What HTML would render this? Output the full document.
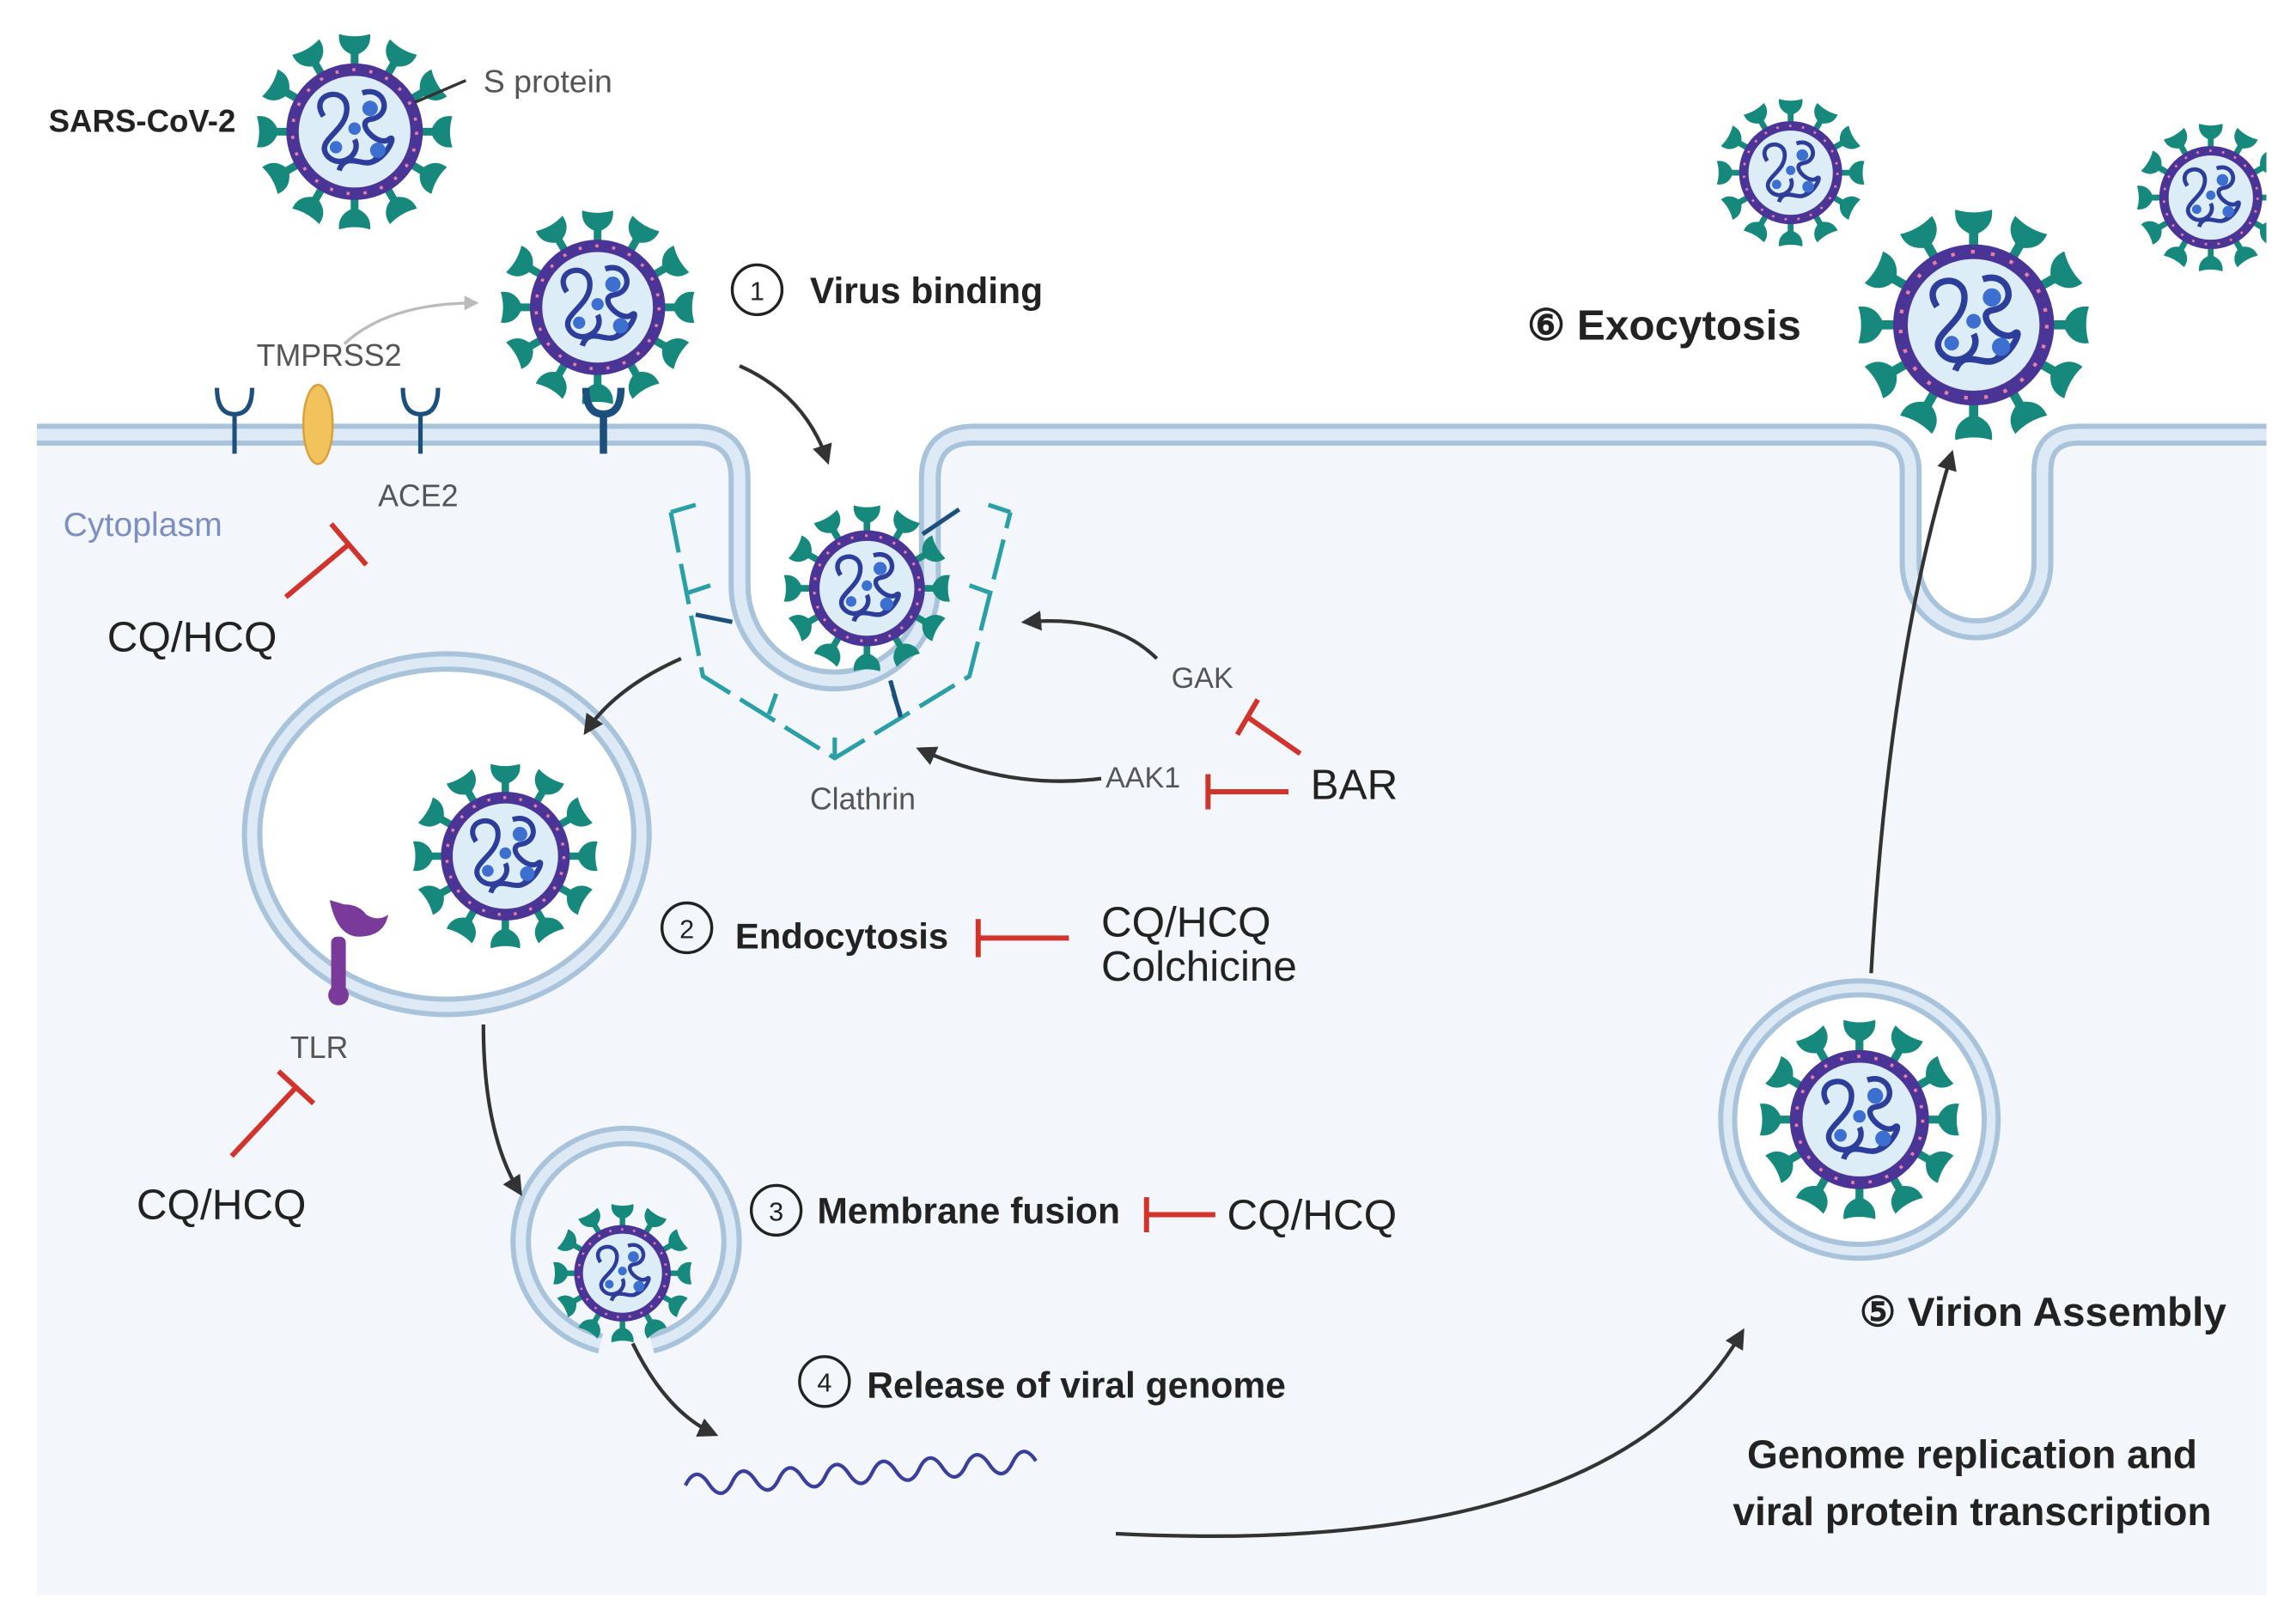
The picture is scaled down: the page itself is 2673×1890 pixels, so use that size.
<!DOCTYPE html>
<html><head><meta charset="utf-8"><style>
html,body{margin:0;padding:0;background:#fff}
svg{display:block}
text{font-family:"Liberation Sans",sans-serif}
</style></head><body>
<svg width="2673" height="1890" viewBox="0 0 1568 1109" xmlns="http://www.w3.org/2000/svg">
<defs>
<g id="v">
  <g fill="#16897c">
    <path id="sp" d="M-2.5,-42 L-2.5,-50 Q-11,-54 -10,-63 Q0,-60 10,-63 Q11,-54 2.5,-50 L2.5,-42Z"/>
    <use href="#sp" transform="rotate(30)"/><use href="#sp" transform="rotate(60)"/><use href="#sp" transform="rotate(90)"/>
    <use href="#sp" transform="rotate(120)"/><use href="#sp" transform="rotate(150)"/><use href="#sp" transform="rotate(180)"/>
    <use href="#sp" transform="rotate(210)"/><use href="#sp" transform="rotate(240)"/><use href="#sp" transform="rotate(270)"/>
    <use href="#sp" transform="rotate(300)"/><use href="#sp" transform="rotate(330)"/>
  </g>
  <circle r="40" fill="#dcedf8" stroke="#4a3596" stroke-width="8"/>
  <circle r="40" fill="none" stroke="#e77fa8" stroke-width="2" stroke-dasharray="2 9"/>
  <g fill="none" stroke="#2c3e9a" stroke-width="3.5">
    <path d="M-20,-10 C-30,-25 -5,-30 -5,-15 C-5,0 -25,5 -18,15 C-10,25 5,15 0,5"/>
    <path d="M5,-25 C20,-30 25,-10 10,-8 C0,-6 15,10 22,5 C28,0 20,20 8,20"/>
    <path d="M-10,25 C-5,10 10,28 15,15"/>
  </g>
  <g fill="#3c6fcf"><circle cx="10" cy="-15" r="5"/><circle cx="-12" cy="10" r="4"/><circle cx="15" cy="12" r="5"/><circle cx="0" cy="-2" r="4"/></g>
</g>
<marker id="ah" viewBox="0 0 10 10" refX="8" refY="5" markerWidth="5.5" markerHeight="5.5" orient="auto"><path d="M0,0 L10,5 L0,10Z" fill="#333"/></marker>
<marker id="ag" viewBox="0 0 10 10" refX="8" refY="5" markerWidth="5" markerHeight="5" orient="auto"><path d="M0,0 L10,5 L0,10Z" fill="#bbb"/></marker>
</defs>

<path d="M25,297 H475 Q505,297 505,327 V400 A65,65 0 0 0 635,400 V327 Q635,297 665,297 H1275 Q1305,297 1305,322 V385 A45,45 0 0 0 1395,385 V322 Q1395,297 1420,297 H1548 V1090 H25Z" fill="#f3f7fb"/>
<path d="M25,297 H475 Q505,297 505,327 V400 A65,65 0 0 0 635,400 V327 Q635,297 665,297 H1275 Q1305,297 1305,322 V385 A45,45 0 0 0 1395,385 V322 Q1395,297 1420,297 H1548" fill="none" stroke="#a8c3da" stroke-width="15"/>
<path d="M25,297 H475 Q505,297 505,327 V400 A65,65 0 0 0 635,400 V327 Q635,297 665,297 H1275 Q1305,297 1305,322 V385 A45,45 0 0 0 1395,385 V322 Q1395,297 1420,297 H1548" fill="none" stroke="#dde9f4" stroke-width="8"/>

<path d="M458,350 L480,462 L570,518 L662,462 L690,350" fill="none" stroke="#2aa0a6" stroke-width="3" stroke-dasharray="28 8"/>
<g stroke="#2aa0a6" stroke-width="3"><line x1="458" y1="350" x2="475" y2="345"/><line x1="470" y1="405" x2="485" y2="400"/><line x1="525" y1="488" x2="530" y2="474"/><line x1="570" y1="518" x2="570" y2="504"/><line x1="615" y1="488" x2="610" y2="474"/><line x1="676" y1="405" x2="662" y2="400"/><line x1="690" y1="350" x2="675" y2="345"/></g>

<use href="#v" transform="translate(242,90) scale(1.06)"/>
<line x1="283" y1="70" x2="318" y2="55" stroke="#333" stroke-width="2"/>
<use href="#v" transform="translate(408,210) scale(1.05)"/>
<use href="#v" transform="translate(592,402) scale(0.9)"/>
<use href="#v" transform="translate(1223,118) scale(0.8)"/>
<use href="#v" transform="translate(1510,135) scale(0.8)"/>
<rect x="1548" y="60" width="30" height="150" fill="#fff"/>
<use href="#v" transform="translate(1348,222) scale(1.25)"/>

<g stroke="#1d4f7d" stroke-width="3" fill="none">
<path d="M160,310 V283 M148,265 Q148,283 160,283 Q172,283 172,265"/>
<path d="M287,310 V283 M275,265 Q275,283 287,283 Q299,283 299,265"/>
<path d="M412,310 V283 M400,265 Q400,283 412,283 Q424,283 424,265" stroke-width="5"/>
<line x1="475" y1="420" x2="500" y2="425"/><line x1="630" y1="365" x2="655" y2="348"/><line x1="608" y1="465" x2="615" y2="490"/>
</g>
<ellipse cx="217" cy="290" rx="10" ry="27" fill="#f2c35d" stroke="#d9a23a" stroke-width="1.5"/>

<ellipse cx="305" cy="570" rx="133" ry="118" fill="#fff" stroke="#a8c3da" stroke-width="14"/>
<ellipse cx="305" cy="570" rx="133" ry="118" fill="none" stroke="#dde9f4" stroke-width="7"/>
<use href="#v" transform="translate(345,585) scale(1)"/>
<g fill="#7a3a9a"><path d="M225,615 Q230,640 245,640 Q262,640 265,625 Q258,630 250,625 Q245,618 235,618Z"/><rect x="226" y="640" width="10" height="42" rx="4"/><circle cx="231" cy="680" r="7"/></g>

<path d="M410,918 A72,72 0 1 1 445,918" fill="none" stroke="#a8c3da" stroke-width="14"/>
<path d="M410,918 A72,72 0 1 1 445,918" fill="none" stroke="#dde9f4" stroke-width="7"/>
<use href="#v" transform="translate(425,870) scale(0.75)"/>

<circle cx="1270" cy="765" r="90" fill="#fff" stroke="#a8c3da" stroke-width="13"/>
<circle cx="1270" cy="765" r="90" fill="none" stroke="#dde9f4" stroke-width="6"/>
<use href="#v" transform="translate(1270,765) scale(1.08)"/>

<path d="M468,1015 q8,-14 16,0 t16,0 t16,0 t16,0 t16,0 t16,0 t16,0 t16,0 t16,0 t16,0 t16,0 t16,0 t16,0 t16,0 t16,0" fill="none" stroke="#3b3f9a" stroke-width="2.5" transform="rotate(-4 468 1015)"/>

<g fill="none" stroke="#333" stroke-width="2.5" marker-end="url(#ah)">
<path d="M505,250 Q550,270 565,315"/>
<path d="M465,450 Q420,470 400,500"/>
<path d="M790,450 Q760,420 700,425"/>
<path d="M752,532 Q690,540 628,512"/>
<path d="M330,700 Q330,775 355,815"/>
<path d="M432,918 Q455,965 488,980"/>
<path d="M762,1048 Q1100,1065 1190,910"/>
<path d="M1278,665 Q1290,450 1333,310"/>
</g>
<path d="M235,235 Q265,207 325,207" fill="none" stroke="#bbb" stroke-width="2" marker-end="url(#ag)"/>

<g stroke="#d0342c" stroke-width="3.5" fill="none">
<path d="M195,408 L238,372 M226,358 L250,386"/>
<path d="M888,515 L852,490 M845,502 L859,478"/>
<path d="M880,541 L825,541 M825,529 V553"/>
<path d="M730,641 L668,641 M668,628 V654"/>
<path d="M158,790 L202,743 M190,732 L214,754"/>
<path d="M830,830 L783,830 M783,818 V842"/>
</g>

<g fill="#222">
<text x="33" y="90" font-size="21.5" font-weight="bold">SARS-CoV-2</text>
<text x="330" y="63" font-size="22" fill="#555">S protein</text>
<circle cx="517" cy="198" r="17" fill="none" stroke="#222" stroke-width="2"/><text x="517" y="205" font-size="18" text-anchor="middle">1</text>
<text x="553" y="207" font-size="25" font-weight="bold">Virus binding</text>
<text x="175" y="250" font-size="21" fill="#555">TMPRSS2</text>
<text x="258" y="346" font-size="21" fill="#555">ACE2</text>
<text x="43" y="366" font-size="23" fill="#7c8fc0">Cytoplasm</text>
<text x="73" y="445" font-size="29">CQ/HCQ</text>
<text x="800" y="470" font-size="20" fill="#555">GAK</text>
<text x="755" y="538" font-size="20" fill="#555">AAK1</text>
<text x="895" y="546" font-size="29">BAR</text>
<text x="553" y="553" font-size="21" fill="#555">Clathrin</text>
<circle cx="469" cy="634" r="17" fill="none" stroke="#222" stroke-width="2"/><text x="469" y="641" font-size="18" text-anchor="middle">2</text>
<text x="502" y="648" font-size="24.5" font-weight="bold">Endocytosis</text>
<text x="752" y="640" font-size="29">CQ/HCQ</text>
<text x="752" y="670" font-size="29">Colchicine</text>
<text x="198" y="723" font-size="21" fill="#555">TLR</text>
<text x="93" y="833" font-size="29">CQ/HCQ</text>
<circle cx="530" cy="827" r="17" fill="none" stroke="#222" stroke-width="2"/><text x="530" y="834" font-size="18" text-anchor="middle">3</text>
<text x="558" y="836" font-size="25" font-weight="bold">Membrane fusion</text>
<text x="838" y="840" font-size="29">CQ/HCQ</text>
<circle cx="563" cy="944" r="17" fill="none" stroke="#222" stroke-width="2"/><text x="563" y="951" font-size="18" text-anchor="middle">4</text>
<text x="592" y="955" font-size="25" font-weight="bold">Release of viral genome</text>
<text x="1347" y="1003" font-size="27" font-weight="bold" text-anchor="middle">Genome replication and</text>
<text x="1347" y="1042" font-size="27" font-weight="bold" text-anchor="middle">viral protein transcription</text>
<text x="1270" y="906" font-size="28" font-weight="bold">⑤ Virion Assembly</text>
<text x="1043" y="232" font-size="29" font-weight="bold">⑥ Exocytosis</text>
</g>
</svg>
</body></html>
